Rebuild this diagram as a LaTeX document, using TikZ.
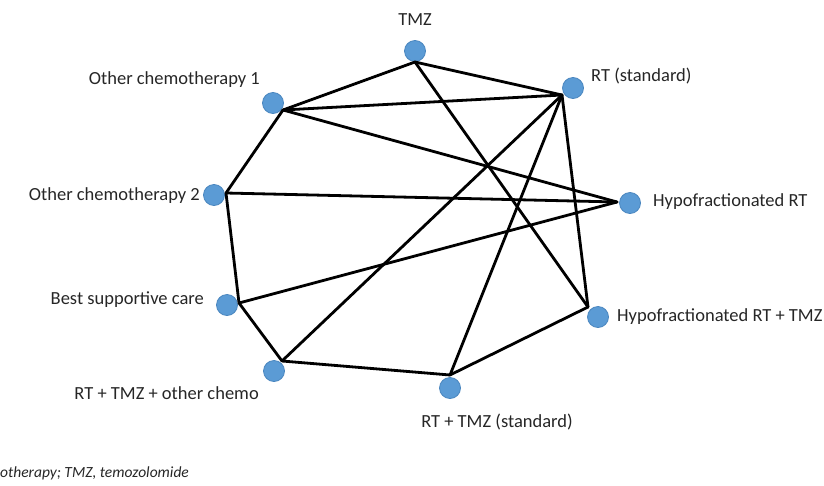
\documentclass[tikz,border=0pt]{standalone}
\usepackage{fontspec}
\setmainfont{Carlito}
\begin{document}
\begin{tikzpicture}[x=1pt,y=-1pt,
  dot/.style={circle,fill=dotblue,draw=dotedge,line width=0.8pt,minimum size=21pt,inner sep=0pt},
  lab/.style={font=\fontsize{18.5}{21}\selectfont,text=black!85,inner sep=0pt},
  link/.style={draw=black,line width=2.8pt,line cap=round}]
\definecolor{dotblue}{HTML}{5B9BD5}
\definecolor{dotedge}{HTML}{4A86BF}
\useasboundingbox (0,0) rectangle (824,485);
% circles
\node[dot] (tmz) at (415,51) {};
\node[dot] (rts) at (573,88) {};
\node[dot] (oc1) at (273,103) {};
\node[dot] (oc2) at (214,195) {};
\node[dot] (hrt) at (630,203) {};
\node[dot] (bsc) at (227,305) {};
\node[dot] (hrtt) at (598,317) {};
\node[dot] (rtoc) at (274,371) {};
\node[dot] (rtst) at (450,388) {};
% attach points
\coordinate (ptmz) at (415,62);
\coordinate (prts) at (562,95);
\coordinate (poc1) at (283,110);
\coordinate (poc2) at (226,193);
\coordinate (phrt) at (617,202);
\coordinate (pbsc) at (239,303);
\coordinate (phrtt) at (588,307);
\coordinate (prtoc) at (282,361);
\coordinate (prtst) at (450,375);
% connectors
\draw[link] (ptmz) -- (poc1);
\draw[link] (ptmz) -- (prts);
\draw[link] (ptmz) -- (phrtt);
\draw[link] (poc1) -- (prts);
\draw[link] (poc1) -- (phrt);
\draw[link] (poc1) -- (poc2);
\draw[link] (poc2) -- (phrt);
\draw[link] (poc2) -- (pbsc);
\draw[link] (pbsc) -- (phrt);
\draw[link] (pbsc) -- (prtoc);
\draw[link] (prtoc) -- (prts);
\draw[link] (prtoc) -- (prtst);
\draw[link] (prtst) -- (prts);
\draw[link] (prtst) -- (phrtt);
\draw[link] (prts) -- (phrtt);
% labels
\node[lab] (ltmz) at (415,20) {TMZ};
\node[lab,anchor=west] (lrts) at (591,76) {RT (standard)};
\node[lab,anchor=east] (loc1) at (260,80) {Other chemotherapy 1};
\node[lab,anchor=east] (loc2) at (200,196) {Other chemotherapy 2};
\node[lab,anchor=west] (lhrt) at (653,202) {Hypofractionated RT};
\node[lab,anchor=east] (lbsc) at (204,300) {Best supportive care};
\node[lab,anchor=west] (lhrtt) at (617,317) {Hypofractionated RT + TMZ};
\node[lab,anchor=east] (lrtoc) at (259,393) {RT + TMZ + other chemo};
\node[lab] (lrtst) at (497,422) {RT + TMZ (standard)};
\node[anchor=west,inner sep=0pt,font=\itshape\fontsize{15.5}{17}\selectfont,text=black!85] (foot) at (0,473) {otherapy; TMZ, temozolomide};
\end{tikzpicture}
\end{document}
